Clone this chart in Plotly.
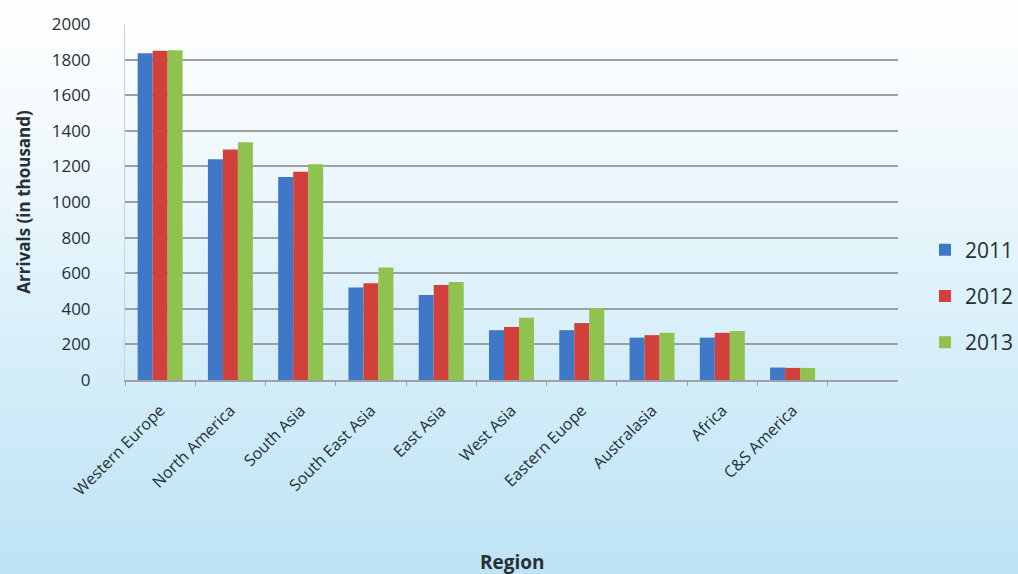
import plotly.graph_objects as go

# Tourist arrivals by source region, in thousands
regions = ["Western Europe", "North America", "South Asia", "South East Asia",
           "East Asia", "West Asia", "Eastern Euope", "Australasia", "Africa",
           "C&S America"]
arrivals_2011 = [1835, 1240, 1140, 520, 478, 280, 280, 238, 238, 70]
arrivals_2012 = [1850, 1295, 1170, 543, 534, 298, 320, 252, 265, 68]
arrivals_2013 = [1852, 1335, 1212, 632, 550, 350, 402, 265, 275, 68]
years = ["2011", "2012", "2013"]
colors = ["#3f78c6", "#d2403c", "#8fc24f"]
y_ticks = list(range(0, 2001, 200))

FONT = "'Open Sans', Lato, sans-serif"
TEXT = "#263036"

W, H = 1018, 574
ML, MR, MT, MB = 125, 120, 24, 194
plot_h = H - MT - MB

fig = go.Figure()
for name, vals, col in zip(years, [arrivals_2011, arrivals_2012, arrivals_2013], colors):
    fig.add_trace(go.Bar(
        x=regions, y=vals, name=name, legendgroup=name,
        marker=dict(color=col, line=dict(width=0)),
    ))

# soft vertical gradient behind the whole chart (white -> pale sky blue)
stops = [(0, (255, 255, 255)), (120, (244, 250, 253)), (260, (226, 243, 251)),
         (420, (206, 235, 248)), (574, (190, 227, 244))]

def color_at(py):
    for (p0, c0), (p1, c1) in zip(stops, stops[1:]):
        if p0 <= py <= p1:
            t = (py - p0) / (p1 - p0)
            return "rgb(%d,%d,%d)" % tuple(round(a + (b - a) * t) for a, b in zip(c0, c1))
    return "rgb(%d,%d,%d)" % stops[-1][1]

shapes = []
step = 6
for py in range(0, H, step):
    y_top = (H - MB - py) / plot_h
    y_bot = (H - MB - py - step - 1) / plot_h
    shapes.append(dict(type="rect", xref="paper", yref="paper",
                       x0=-0.2, x1=1.2, y0=y_bot, y1=y_top,
                       fillcolor=color_at(py + step / 2), line=dict(width=0),
                       layer="below"))

fig.update_layout(
    width=W, height=H,
    margin=dict(l=ML, r=MR, t=MT, b=MB, autoexpand=False),
    paper_bgcolor="white",
    plot_bgcolor="rgba(0,0,0,0)",
    barmode="group",
    bargap=0.36,
    bargroupgap=0,
    shapes=shapes,
    font=dict(family=FONT, color=TEXT),
    showlegend=True,
    legend=dict(
        xref="container", yref="container",
        x=925 / W, y=(H - 296) / H, xanchor="left", yanchor="middle",
        font=dict(size=21, color=TEXT, family=FONT),
        bgcolor="rgba(0,0,0,0)",
        traceorder="grouped",
        tracegroupgap=16,
        itemwidth=30,
    ),
    xaxis=dict(
        type="category",
        categoryorder="array", categoryarray=regions,
        range=[-0.5, len(regions) + 0.5],
        tickangle=-45,
        tickfont=dict(size=16, color=TEXT, family=FONT),
        ticklabelstandoff=13,
        showgrid=False,
        showline=True, linecolor="#9aa4a8", linewidth=1.5,
        ticks="outside", ticklen=4, tickcolor="#9aa4a8",
        tickson="boundaries",
        zeroline=False,
    ),
    yaxis=dict(
        range=[0, 2000],
        tickvals=y_ticks,
        tickfont=dict(size=17, color=TEXT, family=FONT),
        ticklabelstandoff=30,
        showgrid=True, gridcolor="#98a2a6", gridwidth=1.5,
        showline=True, linecolor="#c9d3d6", linewidth=1,
        zeroline=False,
        title=dict(text="<b>Arrivals (in thousand)</b>",
                   font=dict(size=17, color=TEXT, family=FONT), standoff=16),
    ),
    annotations=[dict(
        text="<b>Region</b>", xref="paper", yref="paper",
        x=(512 - ML) / (W - ML - MR), y=-(562 - (H - MB)) / plot_h,
        xanchor="center", yanchor="middle", showarrow=False,
        font=dict(size=19, color=TEXT, family=FONT),
    )],
)

fig.write_html("out.html")
